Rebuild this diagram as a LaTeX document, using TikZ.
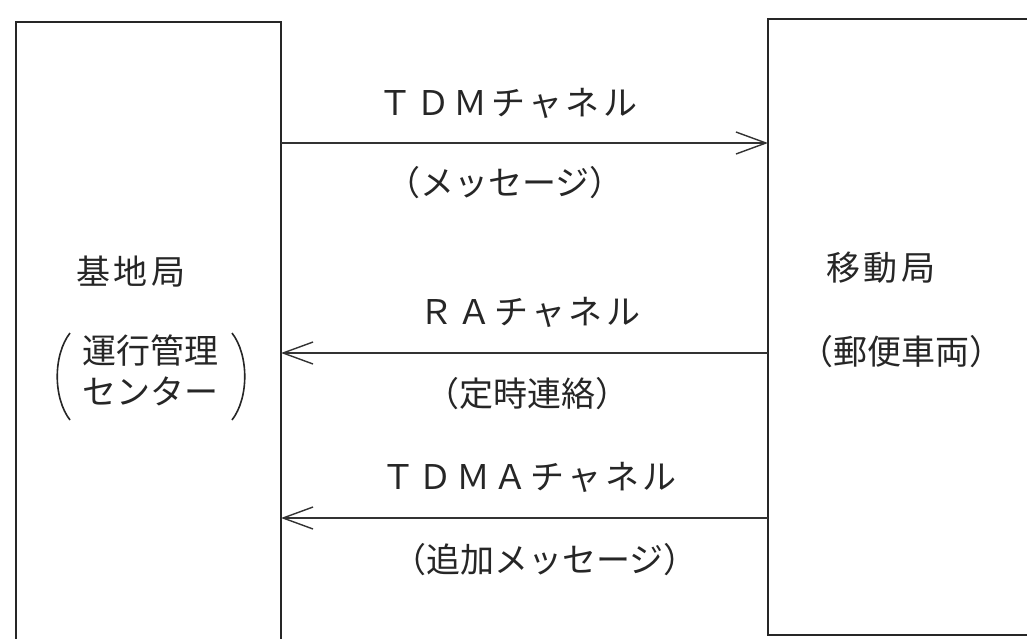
\documentclass[tikz,border=0pt]{standalone}
\usepackage{fontspec}
\newfontfamily\jp{Noto Sans CJK JP}
\newfontfamily\jpsp[LetterSpace=10]{Noto Sans CJK JP}
\usetikzlibrary{arrows.meta}
\begin{document}
\begin{tikzpicture}[x=1pt,y=-1pt,
  box/.style={draw=black!85, line width=2.2pt, inner sep=0pt, outer sep=0pt},
  lbl/.style={text=black!85, font=\jp\fontsize{34}{40}\selectfont, inner sep=0pt},
  chan/.style={text=black!85, font=\jpsp\fontsize{34}{40}\selectfont, inner sep=0pt},
  sig/.style={draw=black!80, line width=1.4pt, -{Straight Barb[length=30pt,width=22pt,line width=1.4pt]}},
  brace/.style={draw=black!85, line width=1.6pt}
]
\useasboundingbox (0,0) rectangle (1027,638);
\clip (0,0) rectangle (1027,638);
\fill[white] (0,0) rectangle (1027,638);
% boxes
\node[box, minimum width=265pt, minimum height=678pt] (L) at (148.5,361) {};
\node[box, line width=1.8pt, minimum width=292pt, minimum height=616pt] (R) at (914,327) {};
% arrow heights
\coordinate (y1) at (0,143);
\coordinate (y2) at (0,353);
\coordinate (y3) at (0,518);
\draw[sig] (L.east |- y1) -- (R.west |- y1);
\draw[sig] (R.west |- y2) -- (L.east |- y2);
\draw[sig] (R.west |- y3) -- (L.east |- y3);
% labels
\node[chan] (tdm) at (508,103) {ＴＤＭチャネル};
\node[lbl] (msg) at (505,183) {（メッセージ）};
\node[chan] (ra) at (530,312) {ＲＡチャネル};
\node[lbl] (teiji) at (527,394) {（定時連絡）};
\node[chan] (tdma) at (529,477) {ＴＤＭＡチャネル};
\node[lbl] (tsuika) at (545,560) {（追加メッセージ）};
\node[chan] (kichi) at (131,272) {基地局};
\node[lbl] (unko) at (150,351) {運行管理};
\node[lbl] (center) at (150,391) {センター};
\draw[brace] (70,333) .. controls (53,355) and (53,398) .. (70,420);
\draw[brace] (232,333) .. controls (249,355) and (249,398) .. (232,420);
\node[chan] (ido) at (881,268) {移動局};
\node[lbl] (yubin) at (901,352) {（郵便車両）};
\end{tikzpicture}
\end{document}
